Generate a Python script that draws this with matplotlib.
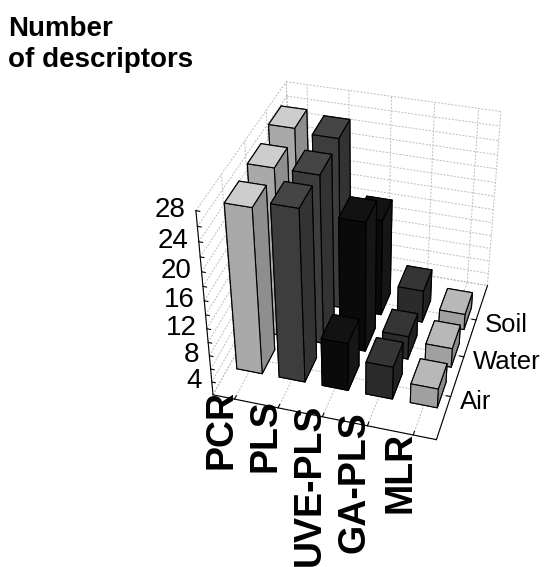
import matplotlib
matplotlib.use('Agg')
import matplotlib.pyplot as plt
from mpl_toolkits.mplot3d import proj3d

plt.rcParams['font.family'] = ['Liberation Sans', 'DejaVu Sans']

# Data
methods = ['PCR', 'PLS', 'UVE-PLS', 'GA-PLS', 'MLR']
media = ['Air', 'Water', 'Soil']
air = [25.9, 26.8, 9.2, 6.9, 4.9]
water = [26.5, 26.5, 21.1, 5.5, 4.9]
soil = [27.5, 27, 16.5, 6.9, 4.4]
z_ticks = [4, 8, 12, 16, 20, 24, 28]

# top, front, side colours per method
tops = ['#cdcdcd', '#454545', '#121212', '#353535', '#b8b8b8']
fronts = ['#a9a9a9', '#3d3d3d', '#0a0a0a', '#2b2b2b', '#a0a0a0']
sides = ['#8e8e8e', '#333333', '#161616', '#222222', '#8c8c8c']

xmin, xmax = -0.5, 4.5
ymin, ymax = -1, 3
zmin, zmax = 2, 28
bar_w = 0.6
bar_d = 0.62

fig = plt.figure(figsize=(5.45, 5.67), dpi=100)
ax = fig.add_axes([0.143, 0.042, 1, 1], projection='3d', computed_zorder=False)
ax.set_proj_type('persp', focal_length=0.42)
ax.view_init(elev=36, azim=-74)
ax.set_box_aspect((1, 1.1, 0.97), zoom=0.72)
ax.set_xlim(xmin, xmax)
ax.set_ylim(ymin, ymax)
ax.set_zlim(zmin, zmax)
ax.set_axis_off()


def label(x, y, z, text, dx, dy, **kw):
    # 3D text ignores rotation, so project the anchor and put a 2D label there
    X, Y, _ = proj3d.proj_transform(x, y, z, ax.get_proj())
    ax.annotate(text, xy=(X, Y), xycoords='data', xytext=(dx, dy),
                textcoords='offset pixels', annotation_clip=False, zorder=5, **kw)


# dashed grid on floor and walls
grid = dict(color='#bcbcbc', lw=0.7, ls=(0, (2, 1.5)), zorder=1)
for x in list(range(5)) + [xmin, xmax]:
    ax.plot([x, x], [ymin, ymax], [zmin, zmin], **grid)
    ax.plot([x, x], [ymax, ymax], [zmin, zmax], **grid)
for y in [0, 1, 2, ymin, ymax]:
    ax.plot([xmin, xmax], [y, y], [zmin, zmin], **grid)
    ax.plot([xmin, xmin], [y, y], [zmin, zmax], **grid)
for z in list(range(2, 29, 2)):
    ax.plot([xmin, xmax], [ymax, ymax], [z, z], **grid)
    ax.plot([xmin, xmin], [ymin, ymax], [z, z], **grid)

# bars
xs, ys, hs, cols = [], [], [], []
for j, vals in enumerate([air, water, soil]):
    for i, v in enumerate(vals):
        xs.append(i - bar_w / 2)
        ys.append(j - bar_d / 2)
        hs.append(v - zmin)
        cols += [fronts[i], tops[i], fronts[i], fronts[i], sides[i], sides[i]]
ax.bar3d(xs, ys, [zmin] * len(xs), bar_w, bar_d, hs, color=cols,
         edgecolor='black', linewidth=0.8, shade=False, zorder=3)

# axis lines and ticks
axis = dict(color='black', lw=0.8, zorder=4)
ax.plot([xmin, xmax], [ymin, ymin], [zmin, zmin], **axis)
ax.plot([xmax, xmax], [ymin, ymax], [zmin, zmin], **axis)
ax.plot([xmin, xmin], [ymin, ymin], [zmin, zmax], **axis)
for z in range(4, 29, 2):
    ax.plot([xmin, xmin + 0.08], [ymin, ymin], [z, z], **axis)
label_dy = [9, 9, 13, 15, 3]  # labels are not evenly offset from the axis
for i, name in enumerate(methods):
    ax.plot([i, i], [ymin, ymin + 0.08], [zmin, zmin], **axis)
    label(i, ymin, zmin, name, -13, label_dy[i], rotation=90, ha='center', va='top',
          fontsize=27, fontweight='bold')
for j, name in enumerate(media):
    ax.plot([xmax - 0.1, xmax], [j, j], [zmin, zmin], **axis)
    label(xmax, j, zmin, name, 9, -5, ha='left', va='center', fontsize=18.5)
for z in z_ticks:
    label(xmin, ymin, z, str(z), -10, 1, ha='right', va='center', fontsize=20)

fig.text(8 / 545, 1 - 29 / 567, 'Number', fontsize=20, fontweight='bold', va='center')
fig.text(8 / 545, 1 - 60 / 567, 'of descriptors', fontsize=20, fontweight='bold', va='center')

fig.savefig('out.png', dpi=100)
